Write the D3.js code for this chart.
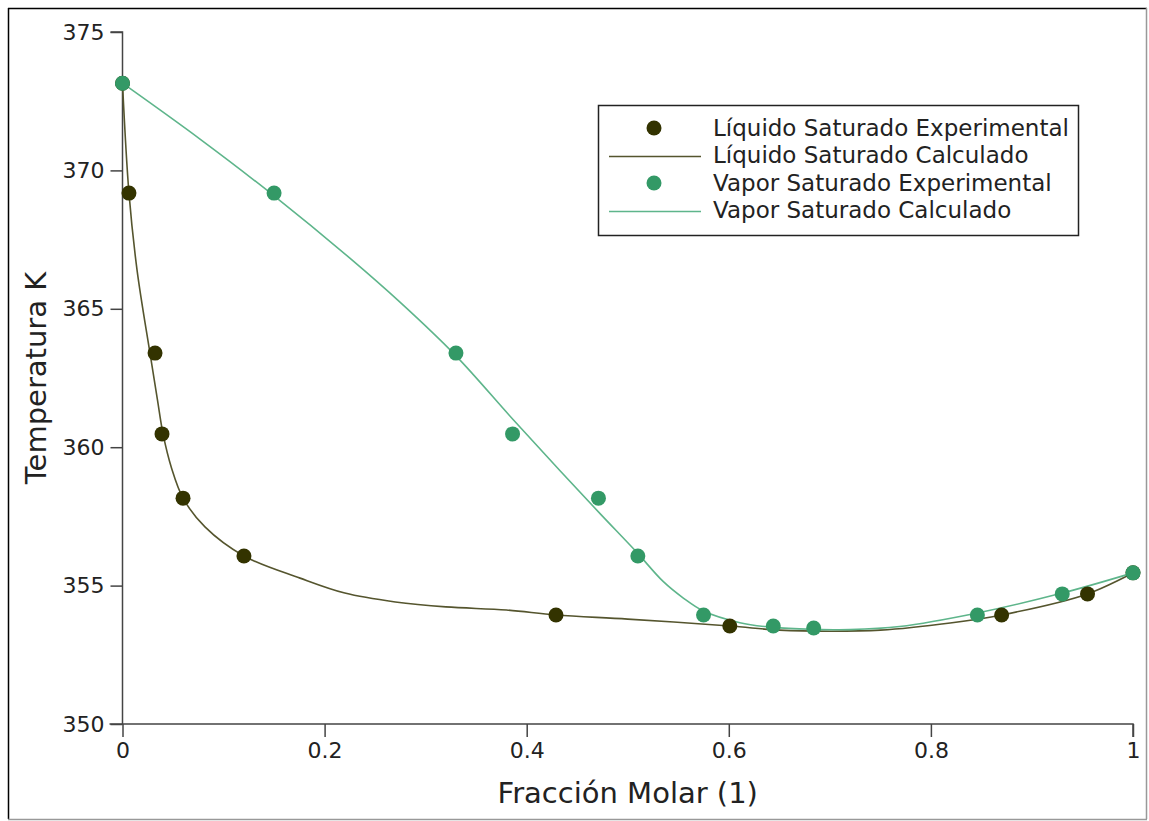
<!DOCTYPE html>
<html>
<head>
<meta charset="utf-8">
<script src="https://cdn.jsdelivr.net/npm/d3@7"></script>
<style>
  html, body { margin: 0; padding: 0; background: #fff; }
  svg { display: block; }
  text { font-family: "DejaVu Sans", sans-serif; fill: #222; }
</style>
</head>
<body>
<svg id="chart" width="1149" height="821"></svg>
<script>
// ---- Data ----
const liquidExpX = [0, 0.0064, 0.0322, 0.0391, 0.0599, 0.1202, 0.429, 0.601, 0.870, 0.955, 1.0];
const liquidExpT = [373.15, 369.18, 363.40, 360.48, 358.16, 356.07, 353.94, 353.54, 353.94, 354.70, 355.46];

const vaporExpX = [0, 0.150, 0.330, 0.386, 0.471, 0.510, 0.575, 0.644, 0.684, 0.846, 0.930, 1.0];
const vaporExpT = [373.15, 369.18, 363.40, 360.48, 358.16, 356.07, 353.94, 353.54, 353.47, 353.94, 354.70, 355.46];

const liquidCalcX = [0, 0.0064, 0.0144, 0.0272, 0.0346, 0.0401, 0.0485, 0.0599, 0.0816, 0.1202, 0.1757, 0.220, 0.270, 0.320, 0.380, 0.429, 0.500, 0.601, 0.650, 0.700, 0.750, 0.819, 0.870, 0.955, 1.0];
const liquidCalcT = [373.15, 369.18, 366.40, 363.40, 361.71, 360.48, 359.25, 358.16, 357.12, 356.07, 355.27, 354.73, 354.41, 354.23, 354.12, 353.94, 353.79, 353.54, 353.39, 353.35, 353.39, 353.65, 353.94, 354.70, 355.46];

const vaporCalcX = [0, 0.0767, 0.150, 0.225, 0.2746, 0.330, 0.3865, 0.433, 0.4726, 0.509, 0.535, 0.555, 0.5754, 0.611, 0.6437, 0.684, 0.720, 0.769, 0.846, 0.930, 1.0];
const vaporCalcT = [373.15, 371.13, 369.08, 366.83, 365.24, 363.30, 361.00, 359.15, 357.60, 356.20, 355.15, 354.55, 354.07, 353.66, 353.49, 353.42, 353.41, 353.52, 354.01, 354.73, 355.46];

const xTicks = [0, 0.2, 0.4, 0.6, 0.8, 1];
const xTickLabels = ["0", "0.2", "0.4", "0.6", "0.8", "1"];
const yTicks = [350, 355, 360, 365, 370, 375];
const yTickLabels = ["350", "355", "360", "365", "370", "375"];

const legendLabels = ["Líquido Saturado Experimental", "Líquido Saturado Calculado", "Vapor Saturado Experimental", "Vapor Saturado Calculado"];
const xTitle = "Fracción Molar (1)";
const yTitle = "Temperatura K";

// ---- Styles ----
const liqDot = "#333300", liqLine = "#55552e";
const vapDot = "#339966", vapLine = "#5eb58b";

const svg = d3.select("#chart");

// frame
svg.append("line").attr("x1", 8.5).attr("x2", 8.5).attr("y1", 8).attr("y2", 819).attr("stroke", "#000").attr("stroke-width", 1.5);
svg.append("line").attr("x1", 8).attr("x2", 1147).attr("y1", 8.5).attr("y2", 8.5).attr("stroke", "#000").attr("stroke-width", 1.5);
svg.append("line").attr("x1", 8).attr("x2", 1147).attr("y1", 819.5).attr("y2", 819.5).attr("stroke", "#999").attr("stroke-width", 1.5);
svg.append("line").attr("x1", 1146.5).attr("x2", 1146.5).attr("y1", 8).attr("y2", 819).attr("stroke", "#999").attr("stroke-width", 1.5);

const x = d3.scaleLinear().domain([0, 1]).range([122.5, 1133]);
const y = d3.scaleLinear().domain([350, 375]).range([724, 32]);

// axes
const xAxis = d3.axisBottom(x).tickValues(xTicks).tickFormat((d, i) => xTickLabels[i]).tickSize(13).tickPadding(5);
const yAxis = d3.axisLeft(y).tickValues(yTicks).tickFormat((d, i) => yTickLabels[i]).tickSize(12).tickPadding(6);

const gx = svg.append("g").attr("transform", "translate(0,724)").call(xAxis);
const gy = svg.append("g").attr("transform", "translate(122.5,0)").call(yAxis);
[gx, gy].forEach(g => {
  g.select(".domain").attr("stroke", "#444").attr("stroke-width", 1.5);
  g.selectAll(".tick line").attr("stroke", "#444").attr("stroke-width", 1.5);
  g.selectAll(".tick text").attr("font-size", 22).attr("font-family", "DejaVu Sans, sans-serif").attr("fill", "#222");
});
gx.select(".domain").attr("d", `M${x(0) - 13},0H${x(1)}V13`);
gy.select(".domain").attr("d", `M-12,${y(375)}H0V${y(350)}`);

// titles
svg.append("text").attr("x", (x(0) + x(1)) / 2).attr("y", 803).attr("text-anchor", "middle")
  .attr("font-size", 29).text(xTitle);
svg.append("text").attr("transform", `translate(46,${(y(350) + y(375)) / 2}) rotate(-90)`)
  .attr("text-anchor", "middle").attr("font-size", 29).text(yTitle);

// lines
const line = d3.line().x(d => x(d[0])).y(d => y(d[1])).curve(d3.curveCatmullRom.alpha(0.5));
const liqCalc = liquidCalcX.map((v, i) => [v, liquidCalcT[i]]);
const vapCalc = vaporCalcX.map((v, i) => [v, vaporCalcT[i]]);

svg.append("path").datum(liqCalc).attr("d", line).attr("fill", "none").attr("stroke", liqLine).attr("stroke-width", 1.6);
svg.append("path").datum(vapCalc).attr("d", line).attr("fill", "none").attr("stroke", vapLine).attr("stroke-width", 1.6);

// points
svg.append("g").selectAll("circle").data(liquidExpX.map((v, i) => [v, liquidExpT[i]])).join("circle")
  .attr("cx", d => x(d[0])).attr("cy", d => y(d[1])).attr("r", 7.5).attr("fill", liqDot);
svg.append("g").selectAll("circle").data(vaporExpX.map((v, i) => [v, vaporExpT[i]])).join("circle")
  .attr("cx", d => x(d[0])).attr("cy", d => y(d[1])).attr("r", 7.5).attr("fill", vapDot);

// legend
const lg = svg.append("g");
lg.append("rect").attr("x", 598.5).attr("y", 105.5).attr("width", 480).attr("height", 130)
  .attr("fill", "#fff").attr("stroke", "#222").attr("stroke-width", 1.5);
const rowY = [128, 155, 183, 210];
const kinds = ["dot", "line", "dot", "line"];
const colors = [liqDot, liqLine, vapDot, vapLine];
legendLabels.forEach((lab, i) => {
  if (kinds[i] === "dot") {
    lg.append("circle").attr("cx", 654).attr("cy", rowY[i]).attr("r", 7.5).attr("fill", colors[i]);
  } else {
    lg.append("line").attr("x1", 609).attr("x2", 701).attr("y1", rowY[i] + 1.5).attr("y2", rowY[i] + 1.5)
      .attr("stroke", colors[i]).attr("stroke-width", 1.6);
  }
  lg.append("text").attr("x", 713).attr("y", rowY[i] + 8).attr("font-size", 23).text(lab);
});
</script>
</body>
</html>
